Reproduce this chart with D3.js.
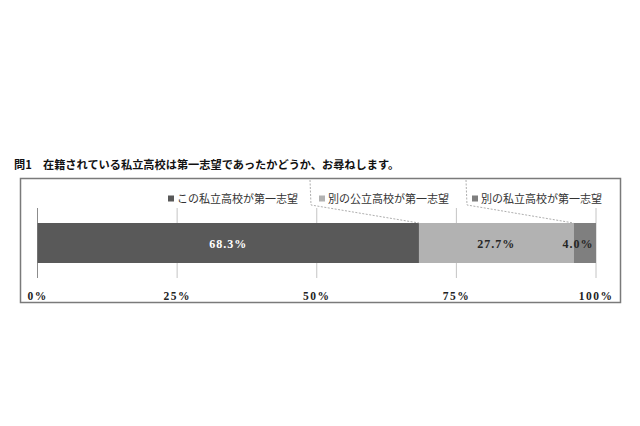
<!DOCTYPE html>
<html>
<head>
<meta charset="utf-8">
<script src="https://cdn.jsdelivr.net/npm/d3@7"></script>
<style>
body{margin:0;background:#fff;}
svg{display:block;}
</style>
</head>
<body>
<svg class="chart" width="640" height="426"></svg>
<script>
// データ
var titleText = "問1　在籍されている私立高校は第一志望であったかどうか、お尋ねします。";
var categories = ["この私立高校が第一志望", "別の公立高校が第一志望", "別の私立高校が第一志望"];
var values = [68.3, 27.7, 4.0];
var tickValues = [0, 25, 50, 75, 100];
var tickLabels = ["0%", "25%", "50%", "75%", "100%"];
var colors = ["#595959", "#b2b2b2", "#7f7f7f"];
var labelColors = ["#ffffff", "#262626", "#262626"];

var svg = d3.select(".chart");

// タイトル
svg.append("text").attr("x", 14).attr("y", 169)
    .attr("font-family", "Noto Sans CJK JP").attr("font-weight", "bold")
    .attr("font-size", 11.2).attr("fill", "#111").text(titleText);

// 枠
svg.append("rect").attr("x", 20.5).attr("y", 178.5).attr("width", 600).attr("height", 124)
    .attr("fill", "#fff").attr("stroke", "#7a7a7a").attr("stroke-width", 1.5);

var x = d3.scaleLinear().domain([0, 100]).range([37.5, 596]);
var barTop = 223, barH = 40;

// グリッド
var grid = svg.append("g").attr("class", "grid");
grid.selectAll("line").data(tickValues).enter().append("line")
    .attr("x1", function(d){ return x(d); }).attr("x2", function(d){ return x(d); })
    .attr("y1", 208).attr("y2", 278)
    .attr("stroke", function(d){ return d == 0 ? "#8c8c8c" : "#c4c4c4"; })
    .attr("stroke-width", 1);

// 積み上げ
var stack = [], acc = 0;
for (var i = 0; i < values.length; i++) {
    stack.push({v: values[i], x0: acc, x1: acc + values[i], i: i});
    acc += values[i];
}

svg.append("g").selectAll("rect").data(stack).enter().append("rect")
    .attr("x", function(d){ return x(d.x0); })
    .attr("width", function(d){ return x(d.x1) - x(d.x0); })
    .attr("y", barTop).attr("height", barH)
    .attr("fill", function(d){ return colors[d.i]; });

// 値ラベル
svg.append("g").selectAll("text").data(stack).enter().append("text")
    .attr("x", function(d){
        var cx = (x(d.x0) + x(d.x1)) / 2;
        return Math.min(cx, x(d.x1) - 18);
    })
    .attr("y", barTop + barH / 2 + 4.5)
    .attr("text-anchor", "middle")
    .attr("font-family", "Liberation Serif").attr("font-weight", "bold")
    .attr("font-size", 12).attr("letter-spacing", 1)
    .attr("fill", function(d){ return labelColors[d.i]; })
    .text(function(d){ return d.v.toFixed(1) + "%"; });

// 目盛りラベル
svg.append("g").selectAll("text").data(tickValues).enter().append("text")
    .attr("x", function(d){ return x(d); }).attr("y", 300)
    .attr("text-anchor", "middle")
    .attr("font-family", "Liberation Serif").attr("font-weight", "bold")
    .attr("font-size", 11.5).attr("letter-spacing", 1.5).attr("fill", "#222")
    .text(function(d, i){ return tickLabels[i]; });

// 凡例
var legendX = [168, 319, 472];
var lg = svg.append("g").selectAll("g").data(categories).enter().append("g")
    .attr("transform", function(d, i){ return "translate(" + legendX[i] + ",199)"; });
lg.append("rect").attr("x", 0).attr("y", -3.5).attr("width", 6).attr("height", 6)
    .attr("fill", function(d, i){ return colors[i]; });
lg.append("text").attr("x", 9).attr("y", 4)
    .attr("font-family", "Noto Sans CJK JP").attr("font-size", 11).attr("fill", "#333")
    .text(function(d){ return d; });

// 引き出し線
var leaders = [{lx: 310, seg: 1}, {lx: 466, seg: 2}];
svg.append("g").selectAll("path").data(leaders).enter().append("path")
    .attr("d", function(d){
        var s = stack[d.seg];
        return "M" + d.lx + "," + 180 + " L" + (d.lx + 1) + "," + 205 + " L" + x(s.x0) + "," + barTop;
    })
    .attr("fill", "none").attr("stroke", "#999").attr("stroke-width", 0.8)
    .attr("stroke-dasharray", "2,1.5");
</script>
</body>
</html>
